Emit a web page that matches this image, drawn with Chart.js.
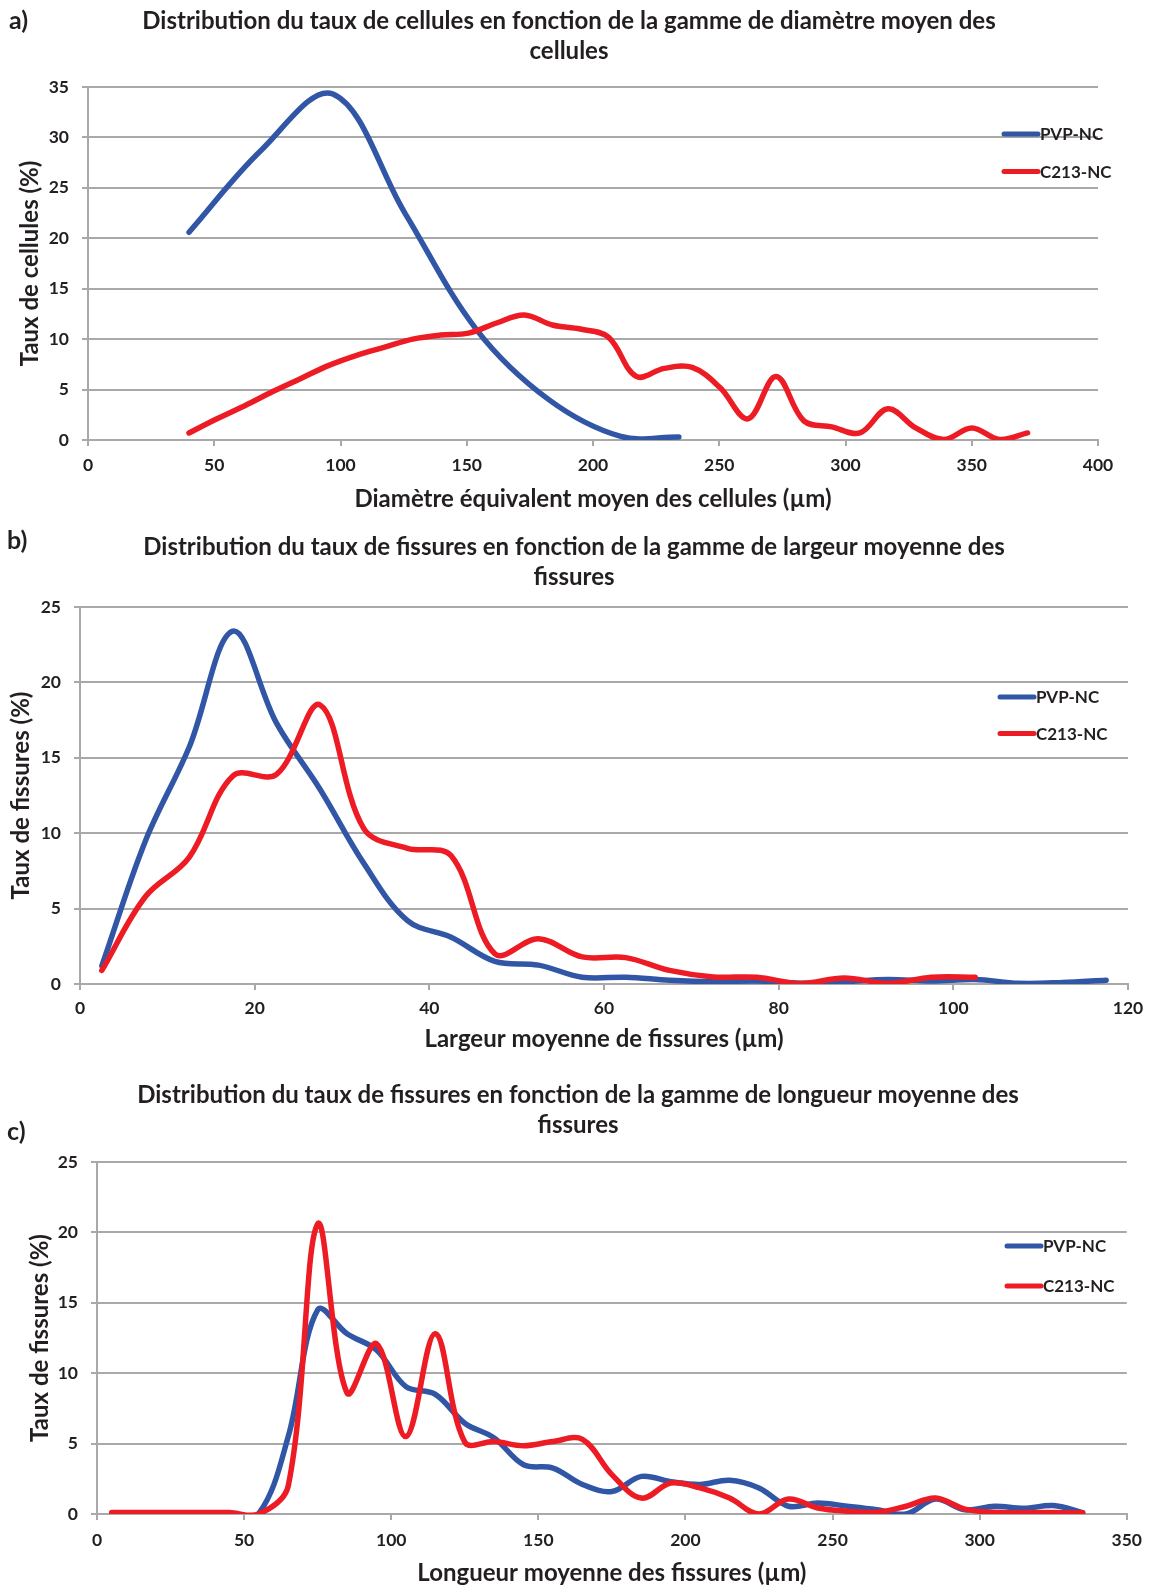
<!DOCTYPE html>
<html>
<head>
<meta charset="utf-8">
<script src="https://cdn.jsdelivr.net/npm/chart.js@4.4.1/dist/chart.umd.min.js"></script>
<style>
  html, body { margin: 0; padding: 0; background: #ffffff; }
  #page { position: relative; width: 1152px; height: 1586px; }
  canvas { position: absolute; left: 0; }
</style>
</head>
<body>
<div id="page">
  <canvas id="chartA" width="1152" height="515" style="top:0px"></canvas>
  <canvas id="chartB" width="1152" height="540" style="top:515px"></canvas>
  <canvas id="chartC" width="1152" height="531" style="top:1055px"></canvas>
</div>
<script>
// a) cell diameter distribution
const diamX_PVP = [40, 68.5, 97, 125.5, 154, 182.5, 211, 234];
const diamY_PVP = [20.6, 28.7, 34.3, 22.5, 10.9, 4.0, 0.35, 0.3];
const diamX_C213 = [40, 51.1, 62.1, 73.2, 84.3, 95.4, 106.4, 117.5, 128.6, 139.6, 150.7,
  161.8, 172.8, 183.9, 195.0, 206.1, 217.1, 228.2, 239.3, 250.3, 261.4, 272.5, 283.5,
  294.6, 305.7, 316.8, 327.8, 338.9, 350.0, 361.0, 372.1];
const diamY_C213 = [0.7, 2.1, 3.4, 4.8, 6.1, 7.4, 8.4, 9.2, 10.0, 10.4, 10.6,
  11.6, 12.4, 11.4, 11.0, 10.2, 6.3, 7.1, 7.2, 5.2, 2.1, 6.3, 1.9,
  1.3, 0.7, 3.1, 1.2, 0.05, 1.2, 0.05, 0.7];

// b) crack width distribution
const largX_PVP = [2.5, 7.5, 12.5, 17.5, 22.5, 27.5, 32.5, 37.5, 42.5, 47.5, 52.5, 57.5,
  62.5, 67.5, 72.5, 77.5, 82.5, 87.5, 92.5, 97.5, 102.5, 107.5, 112.5, 117.5];
const largY_PVP = [1.2, 9.5, 15.7, 23.4, 17.3, 12.9, 8.0, 4.2, 3.1, 1.5, 1.25, 0.45,
  0.45, 0.25, 0.15, 0.2, 0.05, 0.15, 0.3, 0.2, 0.3, 0.05, 0.1, 0.25];
const largX_C213 = [2.5, 7.5, 12.5, 17.5, 22.5, 27.5, 32.5, 37.5, 42.5, 47.5, 52.5,
  57.5, 62.5, 67.5, 72.5, 77.5, 82.5, 87.5, 92.5, 97.5, 102.5];
const largY_C213 = [0.9, 5.8, 8.4, 13.8, 13.9, 18.5, 10.3, 9.0, 8.5, 2.0, 3.0,
  1.8, 1.75, 0.9, 0.47, 0.45, 0.03, 0.4, 0.05, 0.45, 0.45];

// c) crack length distribution
const longX = [5, 15, 25, 35, 45, 55, 65, 75, 85, 95, 105, 115, 125, 135, 145, 155, 165,
  175, 185, 195, 205, 215, 225, 235, 245, 255, 265, 275, 285, 295, 305, 315, 325, 335];
const longY_PVP = [0, 0, 0, 0, 0, 0.05, 5.5, 14.5, 12.8, 11.65, 9.05, 8.5, 6.45, 5.4, 3.5, 3.26, 2.1,
  1.6, 2.67, 2.3, 2.1, 2.4, 1.85, 0.55, 0.78, 0.55, 0.3, 0, 1.06, 0.3, 0.55, 0.4, 0.6, 0.1];
const longY_C213 = [0.1, 0.1, 0.1, 0.1, 0.1, 0, 2.0, 20.6, 8.6, 12.1, 5.5, 12.8, 5.1, 5.15, 4.85, 5.15, 5.3,
  2.8, 1.13, 2.2, 1.85, 1.13, 0, 1.06, 0.43, 0.2, 0.12, 0.55, 1.13, 0.35, 0.12, 0.1, 0.1, 0.08];

const seriesNames = ['PVP-NC', 'C213-NC'];

const BLUE = '#3256a6';
const RED = '#ed1c24';
const GRID = '#a9a9a9';
const INK = '#231f20';
const FONT = 'Lato, "Open Sans", sans-serif';

const toPoints = (xs, ys) => xs.map((x, i) => ({ x: x, y: ys[i] }));

// Title, panel letter and the in-plot legend, drawn Excel-style
const excelDecor = {
  id: 'excelDecor',
  afterDraw(chart, args, opts) {
    const ctx = chart.ctx;
    ctx.save();
    ctx.fillStyle = INK;
    ctx.textBaseline = 'middle';

    ctx.font = 'bold 25px ' + FONT;
    ctx.textAlign = 'left';
    ctx.fillText(opts.panel, opts.panelX, opts.panelY);

    ctx.font = 'bold 24px ' + FONT;
    ctx.textAlign = 'center';
    opts.title.forEach((line, i) => ctx.fillText(line, opts.titleX, opts.titleY + i * opts.titleGap));

    ctx.textAlign = 'left';
    ctx.font = 'bold 17px ' + FONT;
    chart.data.datasets.forEach((ds, i) => {
      const x = opts.legendX;
      const y = opts.legendY + i * opts.legendGap;
      ctx.strokeStyle = ds.borderColor;
      ctx.lineWidth = 5;
      ctx.lineCap = 'round';
      ctx.beginPath();
      ctx.moveTo(x, y);
      ctx.lineTo(x + 34, y);
      ctx.stroke();
      ctx.fillText(ds.label, x + 36, y + 1);
    });
    ctx.restore();
  }
};

function buildChart(id, s) {
  return new Chart(document.getElementById(id), {
    type: 'line',
    data: {
      datasets: [
        { label: seriesNames[0], data: toPoints(s.blueX, s.blueY), borderColor: BLUE, order: 1 },
        { label: seriesNames[1], data: toPoints(s.redX, s.redY), borderColor: RED, order: 0 }
      ]
    },
    options: {
      responsive: false,
      animation: false,
      devicePixelRatio: 1,
      layout: { padding: { left: 0, right: s.padRight, top: s.padTop, bottom: 0 } },
      elements: {
        point: { radius: 0 },
        line: { tension: 0.36, borderWidth: 5.5, borderCapStyle: 'round', borderJoinStyle: 'round', capBezierPoints: false, fill: false }
      },
      plugins: {
        legend: { display: false },
        tooltip: { enabled: false },
        title: { display: false },
        excelDecor: s.decor
      },
      scales: {
        x: {
          type: 'linear',
          min: 0,
          max: s.xMax,
          ticks: { stepSize: s.xStep, padding: s.xTickPad, color: INK, font: { family: FONT, size: 17.5, weight: 'bold' }, maxRotation: 0 },
          grid: { drawOnChartArea: false, drawTicks: true, tickLength: 6, color: GRID, lineWidth: 2 },
          border: { display: true, color: GRID, width: 2 },
          title: { display: true, text: s.xTitle, color: INK, font: { family: FONT, size: 24, weight: 'bold' }, padding: { top: 0, bottom: s.xTitlePad } },
          afterFit: (scale) => { scale.height = s.xHeight; }
        },
        y: {
          min: 0,
          max: s.yMax,
          ticks: { stepSize: 5, padding: 13, color: INK, font: { family: FONT, size: 17.5, weight: 'bold' } },
          grid: { drawTicks: true, tickLength: 6, color: GRID, lineWidth: 2 },
          border: { display: true, color: GRID, width: 2 },
          title: { display: true, text: s.yTitle, color: INK, font: { family: FONT, size: 24, weight: 'bold' }, padding: { top: s.yTitlePad, bottom: 0 } },
          afterFit: (scale) => { scale.width = s.yWidth; }
        }
      }
    },
    plugins: [excelDecor]
  });
}

buildChart('chartA', {
  blueX: diamX_PVP, blueY: diamY_PVP, redX: diamX_C213, redY: diamY_C213,
  xMax: 400, xStep: 50, yMax: 35,
  padTop: 87, padRight: 54, yWidth: 88, xHeight: 75, xTickPad: 9, xTitlePad: 1, yTitlePad: 16,
  xTitle: 'Diamètre équivalent moyen des cellules (µm)',
  yTitle: 'Taux de cellules (%)',
  decor: {
    panel: 'a)', panelX: 9, panelY: 21,
    title: ['Distribution du taux de cellules en fonction de la gamme de diamètre moyen des', 'cellules'],
    titleX: 569, titleY: 21, titleGap: 30,
    legendX: 1004, legendY: 134, legendGap: 37.5
  }
});

buildChart('chartB', {
  blueX: largX_PVP, blueY: largY_PVP, redX: largX_C213, redY: largY_C213,
  xMax: 120, xStep: 20, yMax: 25,
  padTop: 92, padRight: 24, yWidth: 80, xHeight: 71, xTickPad: 8, xTitlePad: 1, yTitlePad: 7,
  xTitle: 'Largeur moyenne de fissures (µm)',
  yTitle: 'Taux de fissures (%)',
  decor: {
    panel: 'b)', panelX: 7, panelY: 26,
    title: ['Distribution du taux de fissures en fonction de la gamme de largeur moyenne des', 'fissures'],
    titleX: 574, titleY: 32, titleGap: 30.5,
    legendX: 1000, legendY: 182, legendGap: 36.5
  }
});

buildChart('chartC', {
  blueX: longX, blueY: longY_PVP, redX: longX, redY: longY_C213,
  xMax: 350, xStep: 50, yMax: 25,
  padTop: 107, padRight: 20, yWidth: 97, xHeight: 72, xTickPad: 10, xTitlePad: -2, yTitlePad: 26,
  xTitle: 'Longueur moyenne des fissures (µm)',
  yTitle: 'Taux de fissures (%)',
  decor: {
    panel: 'c)', panelX: 7, panelY: 77,
    title: ['Distribution du taux de fissures en fonction de la gamme de longueur moyenne des', 'fissures'],
    titleX: 578, titleY: 40, titleGap: 30.5,
    legendX: 1007, legendY: 191, legendGap: 40
  }
});
</script>
</body>
</html>
